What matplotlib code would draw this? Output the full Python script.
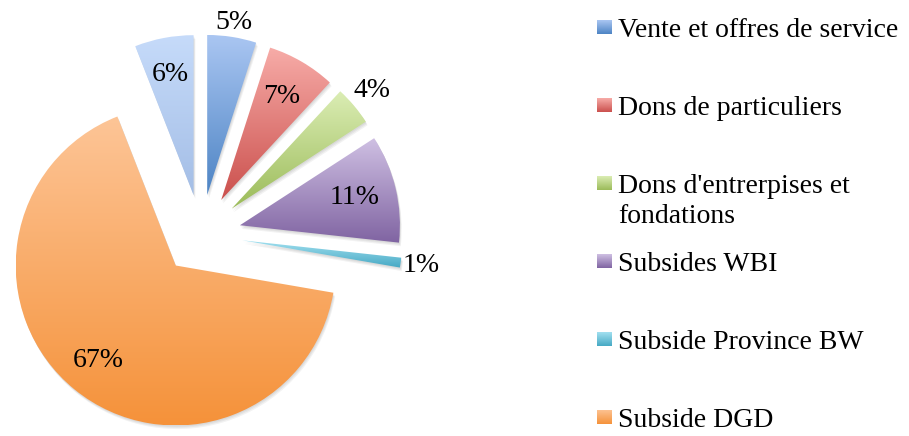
import numpy as np
import matplotlib.pyplot as plt
from matplotlib.colors import to_rgb
from matplotlib.patches import Rectangle, Wedge

# data (last slice has no entry in the legend)
categories = ['Vente et offres de service', 'Dons de particuliers',
              "Dons d'entrerpises et\nfondations", 'Subsides WBI',
              'Subside Province BW', 'Subside DGD', None]
shares = [5, 7, 4, 11, 1, 67, 6]

# gradient colours, top -> bottom
tops = ['#aac6f2', '#f7aca8', '#dbedb4', '#cfc0e3', '#a2e0f0', '#fdc597', '#c6dbfa']
bottoms = ['#4d84c4', '#cb504d', '#9bbb59', '#8064a2', '#46a9c4', '#f5923a', '#a4bee6']

explode = [0.25, 0.25, 0.25, 0.25, 0.26, 0.25, 0.25]
label_dist = [1.09, 0.75, 1.15, 0.74, 1.13, 0.77, 0.77]

plt.rcParams['font.family'] = ['Liberation Serif', 'DejaVu Serif']
FS = 20


def gradient_fill(ax, patch, c_top, c_bot):
    path = patch.get_patch_transform().transform_path(patch.get_path())
    x0, y0, x1, y1 = path.get_extents().extents
    t = np.linspace(0, 1, 256)[:, None]
    img = (1 - t) * np.array(to_rgb(c_top)) + t * np.array(to_rgb(c_bot))
    im = ax.imshow(img[:, None, :], extent=(x0, x1, y0, y1), origin='upper',
                   aspect='auto', interpolation='bilinear', zorder=patch.get_zorder())
    im.set_clip_path(patch)
    patch.set_facecolor('none')


W, H = 909, 436
R = 160            # pie radius in pixels
cx, cy = 201, 234.5  # pie centre, pixels from top-left

fig = plt.figure(figsize=(W / 100, H / 100), dpi=100)
ax = fig.add_axes([0, 0, 1, 1])
wedges, _ = ax.pie(shares, startangle=90, counterclock=False, explode=explode,
                   radius=1, wedgeprops=dict(linewidth=0))

# soft drop shadow under each slice
for w in wedges:
    for k in range(1, 4):
        sh = Wedge((w.center[0] + 0.6 * k / R, w.center[1] - 1.2 * k / R), w.r,
                   w.theta1, w.theta2, facecolor='black', alpha=0.05,
                   linewidth=0, zorder=w.get_zorder() - 0.5)
        ax.add_patch(sh)

for w, ct, cb in zip(wedges, tops, bottoms):
    gradient_fill(ax, w, ct, cb)

for w, v, d in zip(wedges, shares, label_dist):
    a = np.deg2rad((w.theta1 + w.theta2) / 2)
    ax.text(w.center[0] + d * np.cos(a), w.center[1] + d * np.sin(a), f'{v}%',
            ha='center', va='center', fontsize=FS, color='black', zorder=5)

ax.set_xlim(-cx / R, (W - cx) / R)
ax.set_ylim(-(H - cy) / R, cy / R)
ax.set_aspect('auto')
ax.axis('off')

# legend
lax = fig.add_axes([0, 0, 1, 1])
lax.set_xlim(0, W)
lax.set_ylim(0, H)
lax.axis('off')
for i, (name, ct, cb) in enumerate(zip(categories, tops, bottoms)):
    if name is None:
        continue
    base = 37 + 78 * i
    sq = Rectangle((597, H - base + 2.7), 14.5, 14, linewidth=0)
    lax.add_patch(sq)
    gradient_fill(lax, sq, ct, cb)
    for j, line in enumerate(name.split('\n')):
        lax.text(618, H - base - 30 * j, line, ha='left', va='baseline',
                 fontsize=FS, color='black')
lax.set_xlim(0, W)
lax.set_ylim(0, H)
lax.set_aspect('auto')

fig.savefig('out.png', dpi=100)
